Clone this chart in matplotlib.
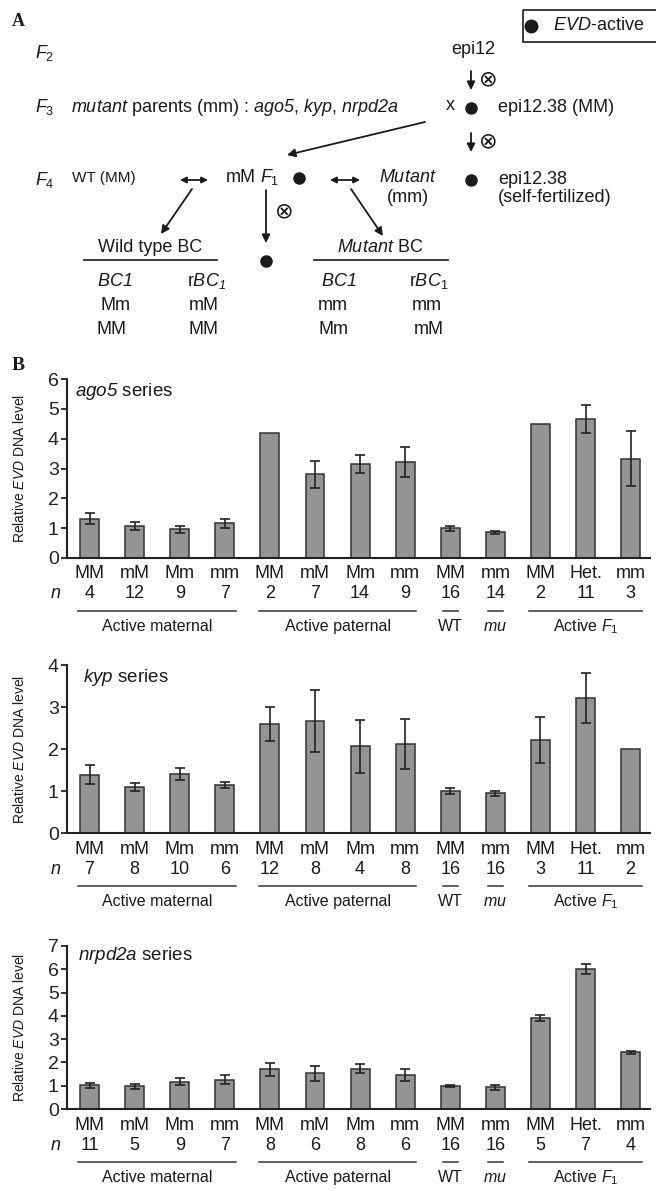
import numpy as np
import matplotlib
matplotlib.use("Agg")
import matplotlib.pyplot as plt
from matplotlib.patches import Rectangle

plt.rcParams['font.family'] = ['Liberation Sans', 'DejaVu Sans']
plt.rcParams['mathtext.fontset'] = 'custom'
plt.rcParams['mathtext.rm'] = 'Liberation Sans'
plt.rcParams['mathtext.it'] = 'Liberation Sans:italic'
plt.rcParams['mathtext.bf'] = 'Liberation Sans:bold'
# \mathsf is used as "italic including digits"
plt.rcParams['mathtext.sf'] = 'Liberation Sans:italic'

# ---- data -------------------------------------------------------------
genotypes = ["MM", "mM", "Mm", "mm", "MM", "mM", "Mm", "mm",
             "MM", "mm", "MM", "Het.", "mm"]
groups = [(0, 3, "Active maternal"), (4, 7, "Active paternal"),
          (8, 8, "WT"), (9, 9, r"$\it{mu}$"), (10, 12, r"Active $\it{F}_1$")]

ago5_mean = [1.32, 1.07, 0.96, 1.16, 4.18, 2.80, 3.14, 3.23, 0.99, 0.86, 4.48, 4.66, 3.33]
ago5_err = [0.19, 0.13, 0.12, 0.16, None, 0.45, 0.30, 0.50, 0.08, 0.06, None, 0.46, 0.92]
ago5_n = [4, 12, 9, 7, 2, 7, 14, 9, 16, 14, 2, 11, 3]

kyp_mean = [1.39, 1.10, 1.40, 1.14, 2.59, 2.67, 2.06, 2.12, 1.00, 0.95, 2.21, 3.21, 2.00]
kyp_err = [0.22, 0.10, 0.14, 0.08, 0.41, 0.73, 0.62, 0.60, 0.06, 0.06, 0.55, 0.59, None]
kyp_n = [7, 8, 10, 6, 12, 8, 4, 8, 16, 16, 3, 11, 2]

nrpd2a_mean = [1.01, 0.97, 1.16, 1.26, 1.70, 1.53, 1.73, 1.46, 0.99, 0.93, 3.92, 6.01, 2.43]
nrpd2a_err = [0.11, 0.11, 0.15, 0.20, 0.28, 0.33, 0.20, 0.27, 0.05, 0.11, 0.13, 0.21, 0.07]
nrpd2a_n = [11, 5, 9, 7, 8, 6, 8, 6, 16, 16, 5, 7, 4]

W, H = 656, 1191
fig = plt.figure(figsize=(W / 100, H / 100), dpi=100)

# overlay in pixel coordinates for the diagram (panel A) and panel letters
ov = fig.add_axes([0, 0, 1, 1])
ov.set_xlim(0, W)
ov.set_ylim(H, 0)
ov.axis("off")

ink = "#1a1a1a"
fs = 13


def t(x, y, s, ha="left", size=fs, **kw):
    ov.text(x, y, s, ha=ha, va="center", fontsize=size, color=ink, **kw)


def dot(x, y, ms=8):
    ov.plot([x], [y], "o", ms=ms, color=ink, mec=ink)


def arrow(p0, p1, style="-|>", ms=12):
    ov.annotate("", xy=p1, xytext=p0,
                arrowprops=dict(arrowstyle=style, color=ink, lw=1.3,
                                mutation_scale=ms, shrinkA=0, shrinkB=0))


t(12, 22, "A", family="Liberation Serif", weight="bold")
t(12, 365, "B", family="Liberation Serif", weight="bold", size=14)

# legend box
ov.add_patch(Rectangle((523, 10), 140, 32, fill=False, ec=ink, lw=1.2, clip_on=False))
dot(531, 26, ms=9)
t(553, 26, r"$\it{EVD}$-active")

# generation rows
t(35, 53, r"$\it{F}_2$")
t(473, 50, "epi12", ha="center")
arrow((471, 71), (471, 90))
t(488, 80, "\u2297", ha="center", size=16)

t(35, 107, r"$\it{F}_3$")
t(71, 107, r"$\mathsf{mutant}$ parents (mm) : $\mathsf{ago5}$, $\mathsf{kyp}$, $\mathsf{nrpd2a}$")
t(450, 105, "x", ha="center")
dot(471, 108)
t(498, 107, "epi12.38 (MM)")
arrow((471, 133), (471, 152))
t(488, 142, "\u2297", ha="center", size=16)
arrow((425, 122), (287, 155))

t(35, 180, r"$\it{F}_4$")
t(72, 178, "WT (MM)", size=11)
arrow((180, 180), (208, 180), style="<|-|>", ms=9)
t(226, 178, "mM")
t(260, 177, r"$\it{F}_1$")
dot(299, 178)
arrow((330, 180), (360, 180), style="<|-|>", ms=9)
t(408, 178, r"$\it{Mutant}$", ha="center")
t(408, 198, "(mm)", ha="center")
dot(471, 180)
t(498, 180, "epi12.38")
t(498, 198, "(self-fertilized)")

arrow((192, 189), (161, 234))
arrow((266, 190), (266, 243))
arrow((351, 189), (383, 236))
t(284, 212, "\u2297", ha="center", size=16)

t(150, 248, "Wild type BC", ha="center")
ov.plot([84, 217], [260, 260], color=ink, lw=1.2)
dot(266, 261)
t(380, 248, r"$\it{Mutant}$ BC", ha="center")
ov.plot([314, 448], [260, 260], color=ink, lw=1.2)

t(115, 281, r"$\mathsf{BC1}$", ha="center")
t(207, 281, r"r$\mathsf{BC}_{\mathsf{1}}$", ha="center")
t(339, 281, r"$\mathsf{BC1}$", ha="center")
t(429, 281, r"r$\mathsf{BC}_1$", ha="center")
t(115, 306, "Mm", ha="center")
t(204, 306, "mM", ha="center")
t(333, 306, "mm", ha="center")
t(427, 306, "mm", ha="center")
t(112, 330, "MM", ha="center")
t(204, 330, "MM", ha="center")
t(333, 330, "Mm", ha="center")
t(429, 329, "mM", ha="center")

# ---- bar panels ---------------------------------------------------------
L, R = 67, 650


def panel(top, bottom, ymax, mean, err, n, gene, title_dx, title_dy):
    ax = fig.add_axes([L / W, 1 - bottom / H, (R - L) / W, (bottom - top) / H])
    hpx = bottom - top
    x = np.arange(len(mean))
    ax.bar(x, mean, width=0.42, color="#949497", edgecolor="#333333",
           linewidth=1.1, zorder=2)
    idx = [i for i, e in enumerate(err) if e is not None]
    ax.errorbar(x[idx], np.array(mean)[idx], yerr=[err[i] for i in idx],
                fmt="none", ecolor="#222222", elinewidth=1.2, capsize=3.5,
                capthick=1.2, zorder=3)
    ax.set_xlim(-0.5, 12.43)
    ax.set_ylim(0, ymax)
    ax.set_yticks(range(ymax + 1))
    ax.set_xticks([])
    for s in ("top", "right"):
        ax.spines[s].set_visible(False)
    for s in ("left", "bottom"):
        ax.spines[s].set_linewidth(1.5)
        ax.spines[s].set_color("#222222")
    ax.tick_params(axis="y", direction="out", length=4, width=1.3,
                   labelsize=14, pad=2, colors="#222222")
    ax.patch.set_alpha(0)

    ax.annotate(r"$\mathsf{%s}$ series" % gene, xy=(0, 1), xycoords="axes fraction",
                xytext=(title_dx, -title_dy), textcoords="offset pixels",
                ha="left", va="center", fontsize=13.5, color=ink)
    fig.text(20 / W, 1 - (top + bottom) / 2 / H,
             r"Relative $\it{EVD}$ DNA level", rotation=90,
             ha="center", va="center", fontsize=10, color=ink)

    tr = ax.get_xaxis_transform()

    def below(xv, dy, s, va="center", **kw):
        ax.annotate(s, xy=(xv, 0), xycoords=tr, xytext=(0, -dy),
                    textcoords="offset pixels", ha="center", va=va,
                    annotation_clip=False, color=ink, **kw)

    for i, g in enumerate(genotypes):
        below(x[i], 16, g, fontsize=13)
        below(x[i], 36, str(n[i]), fontsize=13)
    below(-0.75, 36, r"$\it{n}$", fontsize=13)
    for a, b, lab in groups:
        pad = 0.25 if b > a else 0.17
        yf = -53 / hpx
        ax.plot([a - pad, b + pad], [yf, yf], transform=tr, clip_on=False,
                color="#333333", lw=1.1)
        below((a + b) / 2, 73, lab, va="baseline", fontsize=11.5)
    return ax


panel(379, 558, 6, ago5_mean, ago5_err, ago5_n, "ago5", 8, 13)
panel(665, 833, 4, kyp_mean, kyp_err, kyp_n, "kyp", 16, 12)
panel(946, 1109, 7, nrpd2a_mean, nrpd2a_err, nrpd2a_n, "nrpd2a", 11, 9)

fig.savefig("out.png", dpi=100)
